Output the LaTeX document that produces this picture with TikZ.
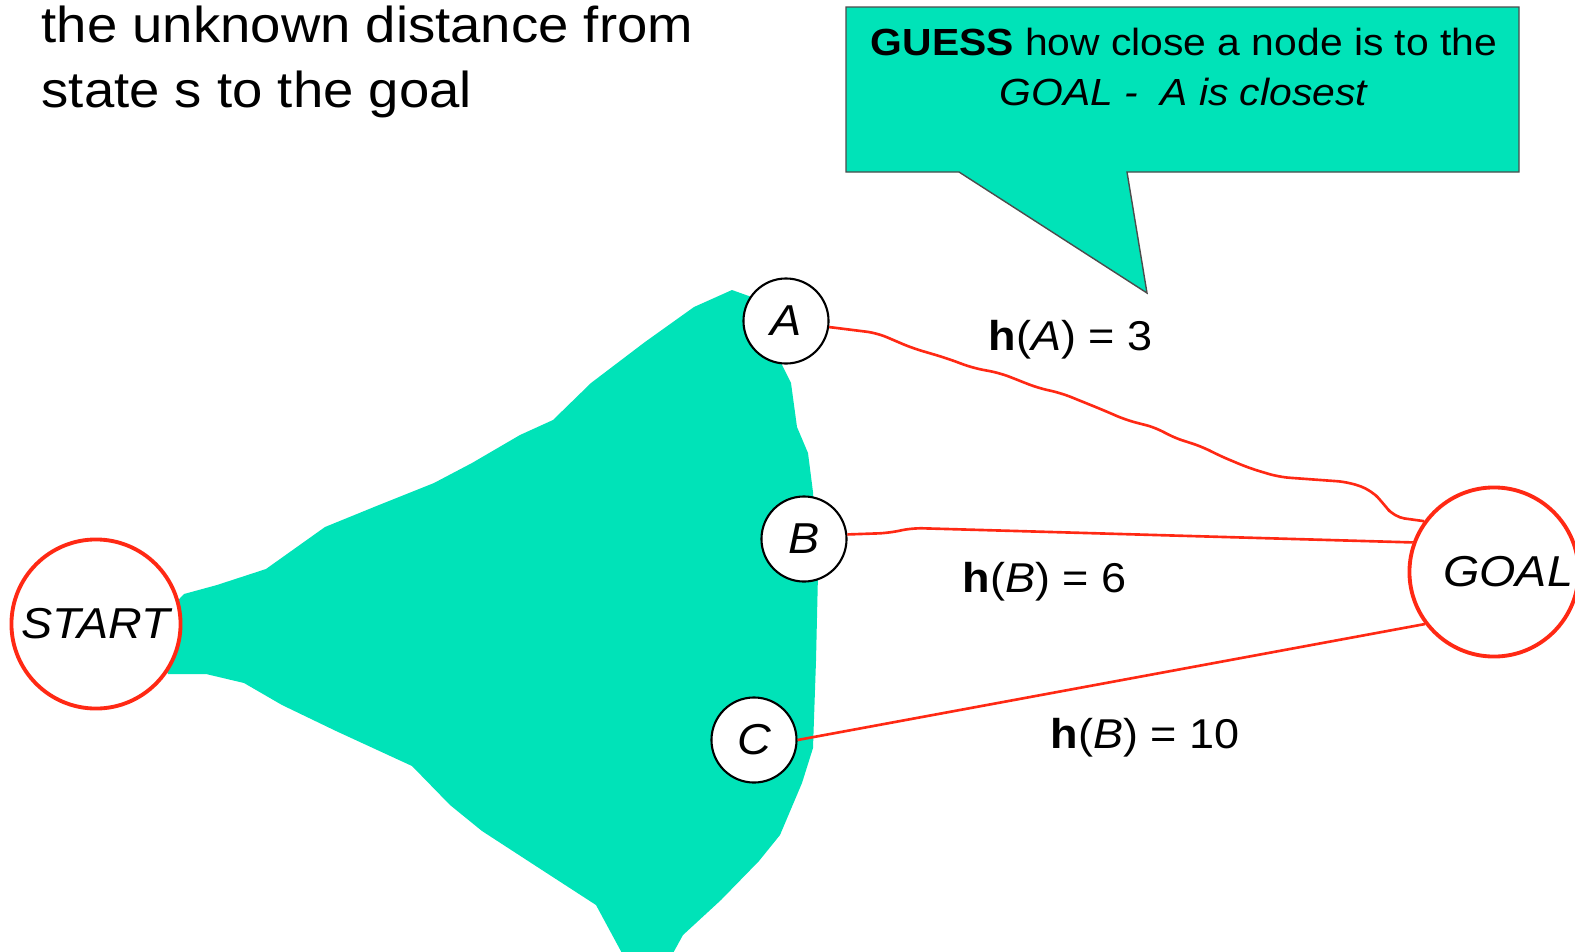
\documentclass[tikz,border=0pt]{standalone}
\usepackage{fontspec}
\setmainfont[FakeStretch=1.08]{Liberation Sans}
\usepackage{tikz}
\usetikzlibrary{positioning}
\definecolor{blob}{rgb}{0.00,0.89,0.72}
\definecolor{hred}{rgb}{1.00,0.16,0.08}

\begin{document}
\begin{tikzpicture}[x=0.01cm,y=-0.01cm,
  nd/.style={draw,circle,fill=white,line width=0.6pt,inner sep=0pt,minimum size=0.85cm,font=\fontsize{12.3}{14}\selectfont\itshape},
  term/.style={draw=hred,circle,fill=white,line width=1.1pt,inner sep=0pt,minimum size=1.69cm,font=\fontsize{12.3}{14}\selectfont\itshape},
  hline/.style={draw=hred,line width=0.75pt,rounded corners=3pt},
  lab/.style={font=\fontsize{11.85}{14}\selectfont,inner sep=0pt,anchor=base west}]
\useasboundingbox (0,0) rectangle (1575,951);
\node[anchor=north west,inner sep=0pt,align=left,font=\fontsize{14.35}{18.5}\selectfont] (ttl) at (41,5) {the unknown distance from\\state s to the goal};
% explored region
\fill[blob] (184,594) -- (217,585) -- (266,569) -- (325,527) -- (379,505) -- (434,483) -- (472,463)
  -- (520,435) -- (553,420) -- (591,383) -- (645,342) -- (694,307) -- (732,290) -- (760,300)
  -- (780,361) -- (791,383) -- (797,427) -- (808,453) -- (813,492) -- (818,574) -- (816,661)
  -- (813,748) -- (802,783) -- (780,835) -- (759,861) -- (721,900) -- (683,935) -- (672,955)
  -- (623,955) -- (596,905) -- (542,870) -- (482,831) -- (450,805) -- (412,766) -- (336,731)
  -- (282,705) -- (244,683) -- (206,674) -- (168,674) -- (150,630) -- cycle;
\node[term] (st) at (96,624) {START};
\node[term] (gl) at (1494,572) {\hspace{8pt}GOAL};
\node[nd] (na) at (786,321) {A};
\node[nd] (nb) at (804,539) {B};
\node[nd] (nc) at (754,740) {C};
\draw[hline] (na.-8) -- (877,333) -- (912,348) -- (946,358) -- (973,368) -- (1000,373) -- (1038,388)
  -- (1061,393) -- (1103,410) -- (1126,420) -- (1157,428) -- (1172,437) -- (1203,447) -- (1218,455)
  -- (1249,468) -- (1279,477) -- (1348,482) -- (1371,490) -- (1383,503) -- (1394,517) -- (gl.144);
\draw[hline] (nb.6) -- (889,533) -- (912,528) -- (gl.160);
\draw[hline] (nc.east) -- (gl.217);
\node[lab] (ha) at (988,350) {\textbf{h}(\textit{A}) = 3};
\node[lab] (hb) at (962,592) {\textbf{h}(\textit{B}) = 6};
\node[lab] (hc) at (1050,748) {\textbf{h}(\textit{B}) = 10};
% speech bubble
\filldraw[fill=blob,draw=black!70,line width=0.4pt] (846,7) -- (1519,7) -- (1519,172) -- (1127,172)
  -- (1147,293) -- (959,172) -- (846,172) -- cycle;
\node[align=center,inner sep=0pt,anchor=north,font=\fontsize{10.75}{14.2}\selectfont] (gs) at (1184,27)
  {\textbf{GUESS} how close a node is to the\\\textit{GOAL -~\ A is closest}};
\end{tikzpicture}
\end{document}
